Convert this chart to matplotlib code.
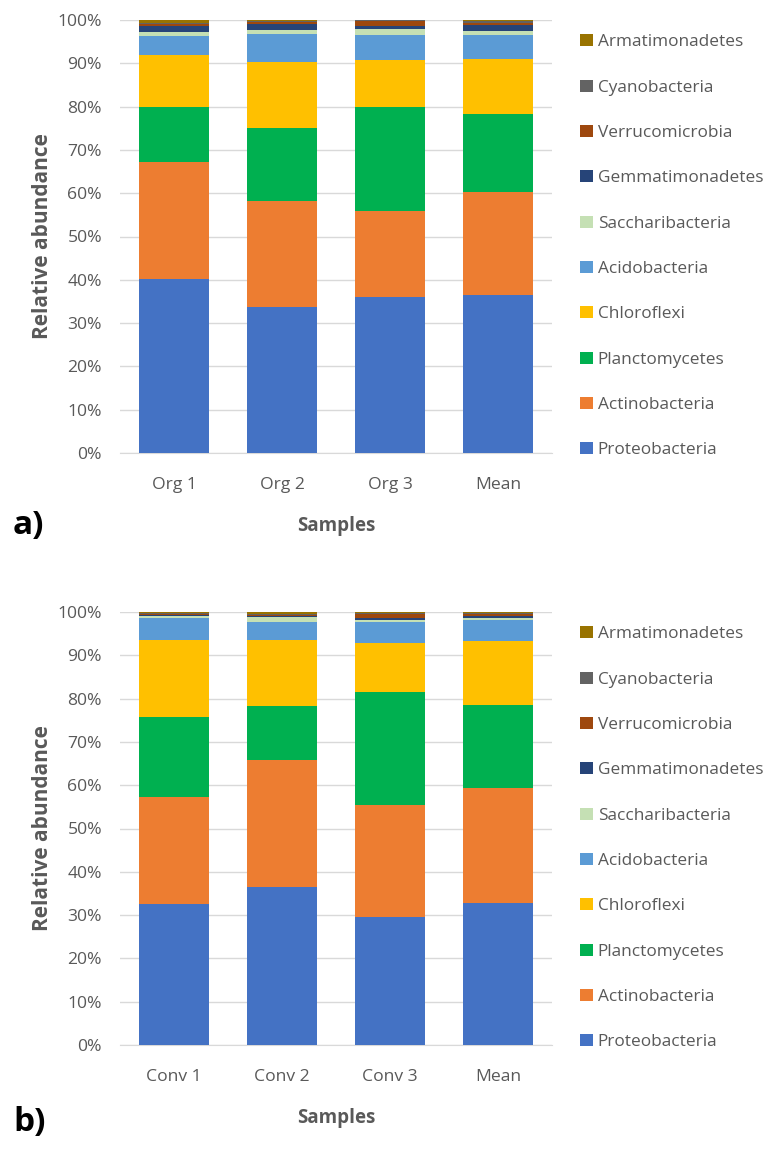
import matplotlib
matplotlib.use("Agg")
import matplotlib.pyplot as plt
import numpy as np

phyla = ["Proteobacteria", "Actinobacteria", "Planctomycetes", "Chloroflexi",
         "Acidobacteria", "Saccharibacteria", "Gemmatimonadetes",
         "Verrucomicrobia", "Cyanobacteria", "Armatimonadetes"]
colors = ["#4472C4", "#ED7D31", "#00B050", "#FFC000", "#5B9BD5",
          "#C5E0B4", "#264478", "#9E480E", "#636363", "#997300"]

samples_a = ["Org 1", "Org 2", "Org 3", "Mean"]
samples_b = ["Conv 1", "Conv 2", "Conv 3", "Mean"]

# values in %, one list per phylum, order of samples
vals_a = {
    "Proteobacteria":   [40.2, 33.8, 36.1, 36.6],
    "Actinobacteria":   [27.0, 24.3, 19.9, 23.6],
    "Planctomycetes":   [12.8, 16.9, 24.0, 18.0],
    "Chloroflexi":      [12.0, 15.4, 10.7, 12.9],
    "Acidobacteria":    [4.4, 6.4, 5.8, 5.4],
    "Saccharibacteria": [0.9, 0.8, 1.4, 1.0],
    "Gemmatimonadetes": [1.4, 1.5, 0.6, 1.3],
    "Verrucomicrobia":  [0.4, 0.4, 1.2, 0.5],
    "Cyanobacteria":    [0.3, 0.3, 0.2, 0.5],
    "Armatimonadetes":  [0.6, 0.2, 0.1, 0.2],
}
vals_b = {
    "Proteobacteria":   [32.6, 36.5, 29.6, 32.8],
    "Actinobacteria":   [24.7, 29.3, 25.8, 26.6],
    "Planctomycetes":   [18.4, 12.5, 26.1, 19.1],
    "Chloroflexi":      [17.8, 15.2, 11.3, 14.8],
    "Acidobacteria":    [5.2, 4.3, 5.0, 4.9],
    "Saccharibacteria": [0.3, 1.1, 0.4, 0.3],
    "Gemmatimonadetes": [0.2, 0.1, 0.4, 0.5],
    "Verrucomicrobia":  [0.3, 0.4, 1.0, 0.5],
    "Cyanobacteria":    [0.2, 0.2, 0.2, 0.2],
    "Armatimonadetes":  [0.3, 0.4, 0.2, 0.3],
}

FONT = ["Open Sans", "DejaVu Sans"]
GREY = "#595959"

fig = plt.figure(figsize=(7.72, 11.49), dpi=100)
W, H = 772, 1149


def draw(rect, samples, vals, panel_label, label_y):
    ax = fig.add_axes(rect)
    x = np.arange(len(samples))
    bottom = np.zeros(len(samples))
    handles = []
    for ph, c in zip(phyla, colors):
        v = np.array(vals[ph])
        h = ax.bar(x, v, 0.65, bottom=bottom, color=c, label=ph, zorder=3)
        handles.append(h)
        bottom += v
    ax.set_xlim(-0.5, len(samples) - 0.5)
    ax.set_ylim(0, 100)
    ax.set_yticks(np.arange(0, 101, 10))
    ax.set_yticklabels([f"{t}%" for t in range(0, 101, 10)])
    ax.set_xticks(x)
    ax.set_xticklabels(samples)
    for s in ["top", "right", "left"]:
        ax.spines[s].set_visible(False)
    ax.spines["bottom"].set_color("#d9d9d9")
    ax.grid(axis="y", color="#d9d9d9", linewidth=1, zorder=0)
    ax.tick_params(length=0, labelsize=12.6, colors=GREY)
    ax.tick_params(axis="y", pad=13)
    ax.tick_params(axis="x", pad=17)
    for lab in ax.get_xticklabels() + ax.get_yticklabels():
        lab.set_family(FONT)
    ax.set_ylabel("Relative abundance", fontsize=15, fontweight="bold",
                  color=GREY, family=FONT, labelpad=3)
    ax.set_xlabel("Samples", fontsize=13.5, fontweight="bold",
                  color=GREY, family=FONT, labelpad=17)
    leg = ax.legend(handles[::-1], phyla[::-1], loc="upper left",
                    bbox_to_anchor=(1.05, 0.9827), frameon=False,
                    prop={"family": FONT, "size": 12.4},
                    labelspacing=1.70, handlelength=0.7, handleheight=0.7,
                    handletextpad=0.3, borderaxespad=0)
    for t in leg.get_texts():
        t.set_color(GREY)
    fig.text(13 / W, 1 - label_y / H, panel_label, fontsize=24,
             fontweight="bold", family=FONT, va="center", ha="left")
    return ax


left = 120 / W
width = 432 / W
hgt = 433 / H
draw([left, 1 - 453 / H, width, hgt], samples_a, vals_a, "a)", 526)
draw([left, 1 - 1045 / H, width, hgt], samples_b, vals_b, "b)", 1123)

fig.savefig("out.png", dpi=100)
